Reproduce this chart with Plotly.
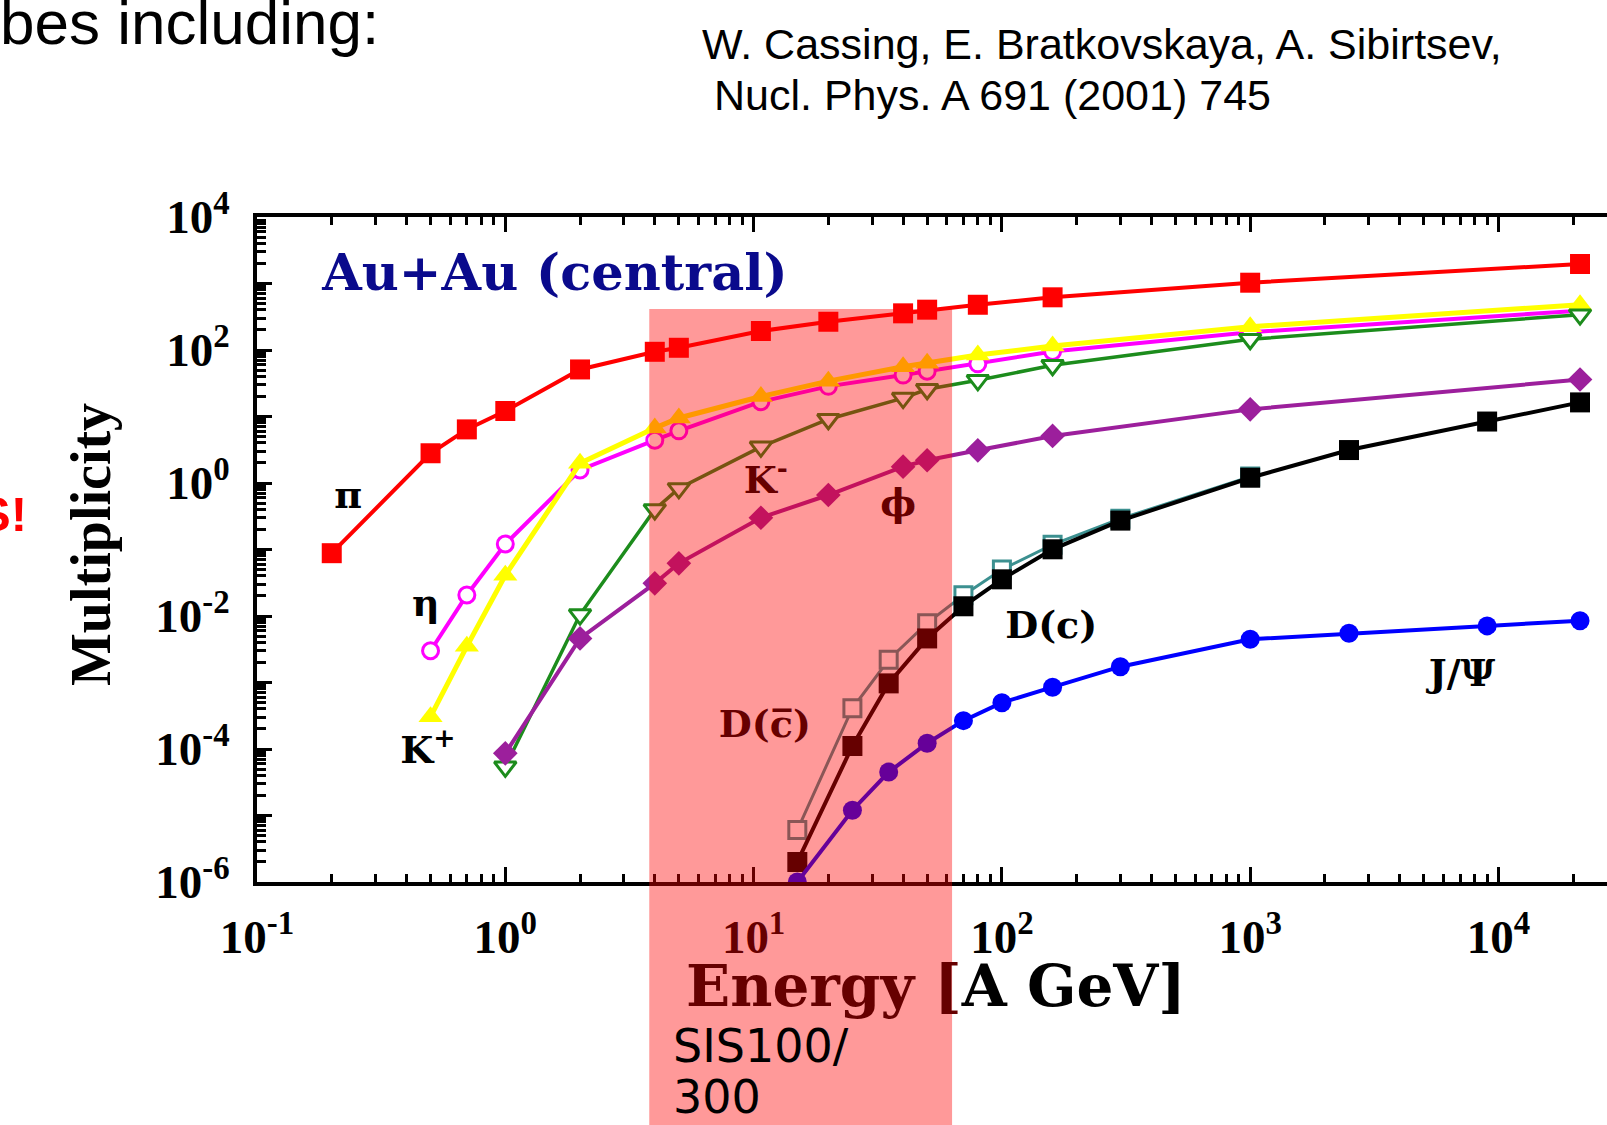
import math
import plotly.graph_objects as go

# ---------------- data: HSD multiplicities, central Au+Au ----------------
# energies in A GeV, multiplicities per event
E_PI = [0.2, 0.5, 0.7, 1, 2, 4, 5, 10.7, 20, 40, 50, 80, 160, 1000, 21300]
M_PI = [0.088, 2.8, 6.4, 12.1, 51, 94, 108, 193, 266, 356, 404, 479, 620, 1028, 1965]

E_ETA = [0.5, 0.7, 1, 2, 4, 5, 10.7, 20, 40, 50, 80, 160, 1000, 21300]
M_ETA = [0.003, 0.0207, 0.121, 1.57, 4.4, 6.1, 16.7, 28.4, 42, 48, 62, 95, 185, 390]

E_KP = [0.5, 0.7, 1, 2, 4, 5, 10.7, 20, 40, 50, 80, 160, 1000, 21300]
M_KP = [3.06e-4, 0.0035, 0.041, 1.98, 6.7, 9.5, 20, 34, 56, 63, 84, 115, 224, 480]

E_KM = [1, 2, 4, 5, 10.7, 20, 40, 50, 80, 160, 1000, 21300]
M_KM = [5.4e-5, 0.0105, 0.40, 0.83, 3.5, 9.1, 18.9, 25.7, 35, 59, 145, 340]

E_PHI = [1, 2, 4, 5, 10.7, 20, 40, 50, 80, 160, 1000, 21300]
M_PHI = [8.6e-5, 0.0046, 0.031, 0.062, 0.30, 0.66, 1.76, 2.2, 3.1, 5.1, 12.8, 36]

E_DBAR = [15, 25, 35, 50, 70, 100, 160, 300, 1000]
M_DBAR = [6.05e-6, 4.1e-4, 0.0022, 0.0078, 0.0205, 0.050, 0.118, 0.29, 1.25]

E_D = [15, 25, 35, 50, 70, 100, 160, 300, 1000, 2500, 9000, 21300]
M_D = [2.0e-6, 1.11e-4, 9.7e-4, 0.0046, 0.0140, 0.0356, 0.1007, 0.272, 1.2, 3.13, 8.4, 16.3]

E_JPSI = [15, 25, 35, 50, 70, 100, 160, 300, 1000, 2500, 9000, 21300]
M_JPSI = [1.0e-6, 1.2e-5, 4.5e-5, 1.22e-4, 2.67e-4, 4.97e-4, 8.5e-4, 0.00173, 0.00447, 0.0055, 0.0071, 0.0085]

# curve labels and where they sit (energy, multiplicity)
LABEL_TEXT = ["π", "η", "K<sup>+</sup>", "K<sup>-</sup>", "\u03d5", "D(c)", "D(c\u0305)", "J/Ψ"]
LABEL_E = [0.233, 0.479, 0.488, 11.2, 38.2, 158, 11.1, 7130]
LABEL_M = [0.594, 0.0141, 8.7e-5, 1.0, 0.45, 0.00638, 2.07e-4, 0.00125]

# SIS100/300 energy window
BAND_E = [3.8, 63.0]
BAND_TOP_M = 413

# axis ticks
X_DECADES = [-1, 0, 1, 2, 3, 4]
Y_DECADES = list(range(-6, 5))

# ---------------- page geometry ----------------
FIG_W, FIG_H = 1607, 1125
M_L, M_R, M_T, M_B = 257, 0, 217, 243
X_RANGE = [-1, 4.437]
Y_RANGE = [-6, 4]
PW = FIG_W - M_L - M_R
PH = FIG_H - M_T - M_B

# colour of black text seen through the translucent band
BAND_COLOR = "#ff0000"
BAND_OPACITY = 0.4
TINTED_BLACK = "#660000"


def paper_x(px):
    return (px - M_L) / PW


def paper_y(py):
    return (FIG_H - M_B - py) / PH


SERIF = "Liberation Serif, Times New Roman, serif"
LABEL_SERIF = "DejaVu Serif, serif"
SANS = "Liberation Sans, Arial, sans-serif"

fig = go.Figure()


def add_series(x, y, color, symbol, size, lw, fill=None, mline=0, mcolor=None):
    fig.add_trace(go.Scatter(
        x=x, y=y, mode="lines+markers",
        line=dict(color=color, width=lw),
        marker=dict(symbol=symbol, size=size,
                    color=fill if fill is not None else color,
                    line=dict(color=mcolor or color, width=mline)),
        hoverinfo="skip", showlegend=False,
    ))


add_series(E_PI, M_PI, "#ff0000", "square", 20, 4)
add_series(E_ETA, M_ETA, "#ff00ff", "circle", 16, 4, fill="white", mline=3)
add_series(E_KP, M_KP, "#ffff00", "triangle-up", 21, 5)
add_series(E_KM, M_KM, "#1c8c1c", "triangle-down", 19, 3.5, fill="white", mline=3)
add_series(E_PHI, M_PHI, "#9c1f9c", "diamond", 19, 4)
add_series(E_DBAR, M_DBAR, "#3c9090", "square", 17, 3, fill="white", mline=3)
add_series(E_D, M_D, "#000000", "square", 20, 4)
add_series(E_JPSI, M_JPSI, "#0000ff", "circle", 19, 4)

# particle labels
fig.add_trace(go.Scatter(
    x=LABEL_E, y=LABEL_M, mode="text", text=LABEL_TEXT,
    textposition="middle center",
    textfont=dict(family=LABEL_SERIF, size=38, color="black", weight="bold"),
    cliponaxis=False, hoverinfo="skip", showlegend=False,
))

# system label
fig.add_trace(go.Scatter(
    x=[1.585], y=[1253], mode="text", text=["Au+Au (central)"],
    textposition="middle center",
    textfont=dict(family=LABEL_SERIF, size=51, color="#0a0a8c", weight="bold"),
    cliponaxis=False, hoverinfo="skip", showlegend=False,
))

# translucent SIS100/300 band over the plot
band_top = (math.log10(BAND_TOP_M) - Y_RANGE[0]) / (Y_RANGE[1] - Y_RANGE[0])
fig.add_shape(type="rect", xref="x", yref="paper",
              x0=BAND_E[0], x1=BAND_E[1], y0=-0.6, y1=band_top,
              fillcolor=BAND_COLOR, opacity=BAND_OPACITY, line=dict(width=0), layer="above")


def sup_label(p):
    return "10<sup>%d</sup>" % p


x_minor = [k * 10 ** p for p in range(-1, 5) for k in range(2, 10)]
y_minor = [k * 10 ** p for p in range(-6, 4) for k in range(2, 10)]

fig.update_layout(
    width=FIG_W, height=FIG_H,
    margin=dict(l=M_L, r=M_R, t=M_T, b=M_B, pad=0),
    paper_bgcolor="white", plot_bgcolor="white",
    xaxis=dict(
        type="log", range=X_RANGE,
        tickmode="array", tickvals=[10 ** p for p in X_DECADES],
        ticktext=[sup_label(p) for p in X_DECADES],
        ticks="inside", ticklen=15, tickwidth=3, tickcolor="black",
        showline=True, linewidth=4, linecolor="black", mirror="ticks",
        showgrid=False, zeroline=False,
        tickfont=dict(family=SERIF, size=47, color="black", weight="bold"),
        ticklabelstandoff=11,
        minor=dict(tickmode="array", tickvals=x_minor, ticks="inside",
                   ticklen=8, tickwidth=3, tickcolor="black", showgrid=False),
    ),
    yaxis=dict(
        type="log", range=Y_RANGE,
        tickmode="array", tickvals=[10 ** p for p in Y_DECADES],
        ticktext=[sup_label(p) if p % 2 == 0 else "" for p in Y_DECADES],
        ticks="inside", ticklen=15, tickwidth=3, tickcolor="black",
        showline=True, linewidth=4, linecolor="black",
        showgrid=False, zeroline=False,
        tickfont=dict(family=SERIF, size=47, color="black", weight="bold"),
        ticklabelstandoff=14,
        minor=dict(tickmode="array", tickvals=y_minor, ticks="inside",
                   ticklen=9, tickwidth=3, tickcolor="black", showgrid=False),
    ),
    yaxis2=dict(
        type="log", range=Y_RANGE, overlaying="y", side="right",
        tickmode="array", tickvals=[10 ** p for p in Y_DECADES],
        showticklabels=False, ticks="inside", ticklen=9, tickwidth=3,
        tickcolor="black", showline=False, showgrid=False, zeroline=False,
    ),
)

# energy axis title; the part lying under the band takes the band's tint
fig.add_annotation(
    text="<span style='color:%s'>Energy [</span>A GeV]" % TINTED_BLACK,
    xref="paper", yref="paper", x=paper_x(936), y=paper_y(986),
    xanchor="center", yanchor="middle", showarrow=False,
    font=dict(family=LABEL_SERIF, size=58, color="black", weight="bold"))

# page texts around the chart
fig.add_annotation(text="bes including:", xref="paper", yref="paper",
                   x=paper_x(-2), y=paper_y(23), xanchor="left", yanchor="middle",
                   showarrow=False, font=dict(family=SANS, size=62, color="black"))
fig.add_annotation(text="W. Cassing, E. Bratkovskaya, A. Sibirtsev,", xref="paper", yref="paper",
                   x=paper_x(700), y=paper_y(44), xanchor="left", yanchor="middle",
                   showarrow=False, font=dict(family=SANS, size=43, color="black"))
fig.add_annotation(text="Nucl. Phys. A 691 (2001) 745", xref="paper", yref="paper",
                   x=paper_x(712), y=paper_y(95), xanchor="left", yanchor="middle",
                   showarrow=False, font=dict(family=SANS, size=43, color="black"))
fig.add_annotation(text="S!", xref="paper", yref="paper",
                   x=paper_x(29), y=paper_y(514), xanchor="right", yanchor="middle",
                   showarrow=False,
                   font=dict(family=SANS, size=49, color="#ff0000", weight="bold"))
fig.add_annotation(text="Multiplicity", xref="paper", yref="paper",
                   x=paper_x(91), y=paper_y(545), xanchor="center", yanchor="middle",
                   textangle=-90, showarrow=False,
                   font=dict(family=SERIF, size=56, color="black", weight="bold"))
fig.add_annotation(text="SIS100/", xref="paper", yref="paper",
                   x=paper_x(671), y=paper_y(1046), xanchor="left", yanchor="middle",
                   showarrow=False, font=dict(family="DejaVu Sans, sans-serif", size=46, color="black"))
fig.add_annotation(text="300", xref="paper", yref="paper",
                   x=paper_x(671), y=paper_y(1097), xanchor="left", yanchor="middle",
                   showarrow=False, font=dict(family="DejaVu Sans, sans-serif", size=46, color="black"))

fig.write_html("out.html")
